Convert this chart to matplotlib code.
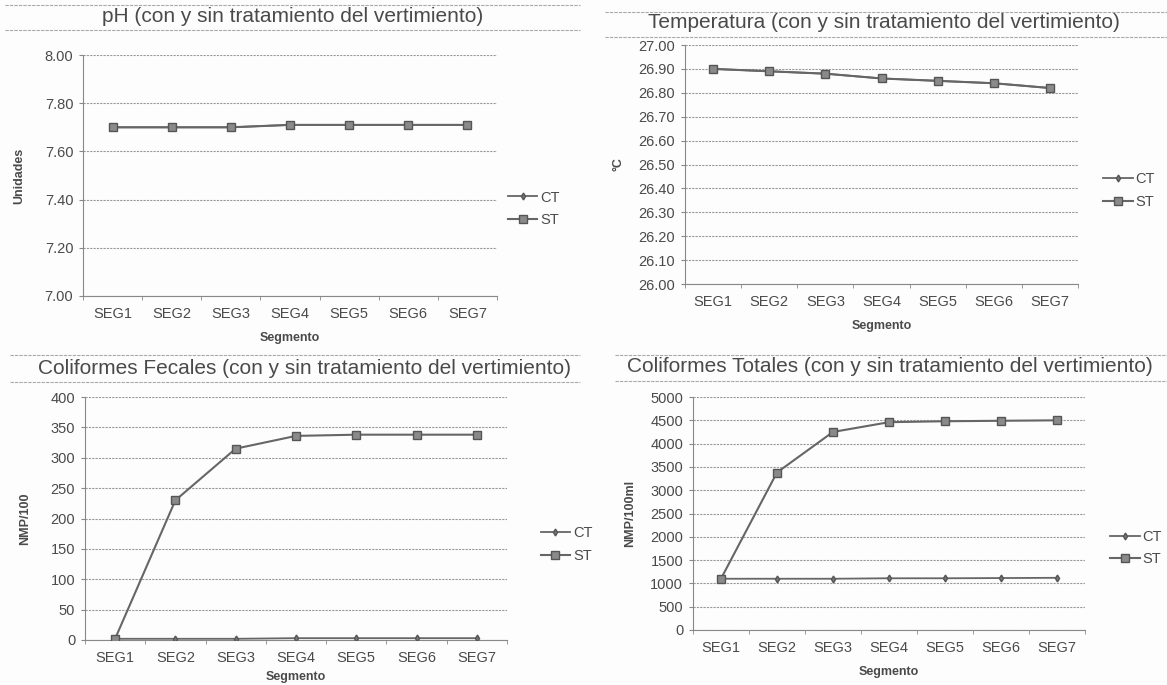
import matplotlib
matplotlib.use("Agg")
import matplotlib.pyplot as plt
from matplotlib.lines import Line2D

plt.rcParams['font.family'] = ['Liberation Sans', 'DejaVu Sans']

segmentos = ["SEG1", "SEG2", "SEG3", "SEG4", "SEG5", "SEG6", "SEG7"]

ph_ct = [7.70, 7.70, 7.70, 7.71, 7.71, 7.71, 7.71]
ph_st = [7.70, 7.70, 7.70, 7.71, 7.71, 7.71, 7.71]

temp_ct = [26.90, 26.89, 26.88, 26.86, 26.85, 26.84, 26.82]
temp_st = [26.90, 26.89, 26.88, 26.86, 26.85, 26.84, 26.82]

cf_ct = [2, 2, 2, 3, 3, 3, 3]
cf_st = [2, 230, 315, 336, 338, 338, 338]

ctot_ct = [1100, 1100, 1100, 1110, 1110, 1115, 1120]
ctot_st = [1100, 3380, 4250, 4460, 4480, 4490, 4500]

TXT = "#4a4a4a"
LINE = "#666666"
GRID = "#9a9a9a"

fig = plt.figure(figsize=(11.67, 6.85), dpi=100)
fig.patch.set_facecolor("#fdfdfd")

panels = [
    dict(rect=[0.0711, 0.5679, 0.3548, 0.3518], ct=ph_ct, st=ph_st,
         ylim=(7.0, 8.0), step=0.2, fmt="{:.2f}", ylabel="Unidades", ylp=14,
         xlp=8, title="pH (con y sin tratamiento del vertimiento)",
         tx=293, ty=16, lines=(5, 30, 5, 580), leg=(0.428, 0.695)),
    dict(rect=[0.5870, 0.5854, 0.3368, 0.3489], ct=temp_ct, st=temp_st,
         ylim=(26.0, 27.0), step=0.1, fmt="{:.2f}", ylabel="°C", ylp=10,
         xlp=8, title="Temperatura (con y sin tratamiento del vertimiento)",
         tx=884, ty=23, lines=(12, 37, 605, 1167), leg=(0.938, 0.722)),
    dict(rect=[0.0728, 0.0657, 0.3616, 0.3547], ct=cf_ct, st=cf_st,
         ylim=(0, 400), step=50, fmt="{:.0f}", ylabel="NMP/100", ylp=14,
         xlp=4, title="Coliformes Fecales (con y sin tratamiento del vertimiento)",
         tx=305, ty=369, lines=(355, 382, 10, 580), leg=(0.456, 0.205)),
    dict(rect=[0.5938, 0.0803, 0.3359, 0.3401], ct=ctot_ct, st=ctot_st,
         ylim=(0, 5000), step=500, fmt="{:.0f}", ylabel="NMP/100ml", ylp=10,
         xlp=8, title="Coliformes Totales (con y sin tratamiento del vertimiento)",
         tx=890, ty=367, lines=(355, 381, 615, 1167), leg=(0.944, 0.2)),
]

W, H = 1167, 685
for p in panels:
    ax = fig.add_axes(p["rect"])
    ax.set_facecolor("none")
    x = list(range(len(segmentos)))
    ax.plot(x, p["ct"], color=LINE, lw=1.3, marker="d", ms=3.5,
            mfc="#777777", mec="#555555", label="CT", zorder=3)
    ax.plot(x, p["st"], color=LINE, lw=1.5, marker="s", ms=5.5,
            mfc="#8a8a8a", mec="#555555", label="ST", zorder=4)
    lo, hi = p["ylim"]
    ax.set_ylim(lo, hi)
    ax.set_xlim(-0.5, len(segmentos) - 0.5)
    n = int(round((hi - lo) / p["step"]))
    yt = [lo + i * p["step"] for i in range(n + 1)]
    ax.set_yticks(yt)
    ax.set_yticklabels([p["fmt"].format(v) for v in yt], color=TXT, fontsize=10.5)
    ax.set_xticks(x)
    ax.set_xticklabels(segmentos, color=TXT, fontsize=10.5)
    ax.set_xticks([i - 0.5 for i in range(len(segmentos) + 1)], minor=True)
    ax.tick_params(axis="x", which="major", length=0, pad=8)
    ax.tick_params(axis="x", which="minor", length=3, color="#888888")
    ax.tick_params(axis="y", length=3, color="#888888", pad=4)
    ax.grid(axis="y", color=GRID, lw=0.8, ls=(0, (2, 1)))
    for s in ["top", "right"]:
        ax.spines[s].set_visible(False)
    for s in ["left", "bottom"]:
        ax.spines[s].set_color("#888888")
        ax.spines[s].set_linewidth(0.8)
    ax.set_xlabel("Segmento", color=TXT, fontsize=9, fontweight="bold",
                  labelpad=p["xlp"])
    ax.set_ylabel(p["ylabel"], color=TXT, fontsize=9, fontweight="bold",
                  labelpad=p["ylp"])
    fig.text(p["tx"] / W, 1 - p["ty"] / H, p["title"], ha="center", va="center",
             fontsize=15, color=TXT)
    y1, y2, x1, x2 = p["lines"]
    for yy in (y1, y2):
        fig.add_artist(Line2D([x1 / W, x2 / W], [1 - yy / H, 1 - yy / H],
                              color="#aaaaaa", lw=0.8, ls=(0, (3, 1))))
    fig.legend(handles=ax.get_lines(), loc="center left",
               bbox_to_anchor=p["leg"], frameon=False, fontsize=10.5,
               handlelength=2.0, handletextpad=0.2, labelspacing=0.6,
               borderaxespad=0.2, labelcolor=TXT)

fig.savefig("out.png", dpi=100, facecolor=fig.get_facecolor())
